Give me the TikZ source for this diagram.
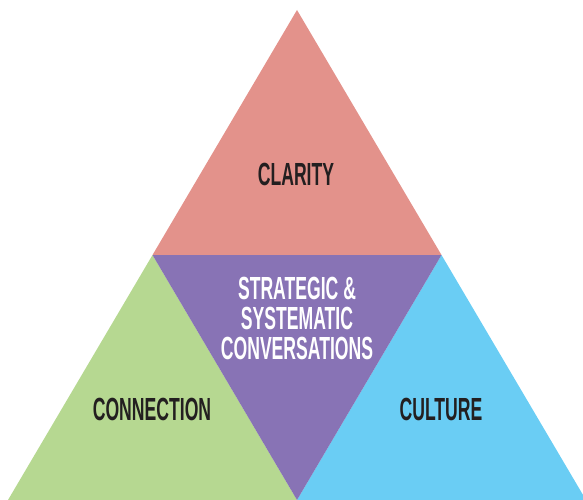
\documentclass[tikz,border=0pt]{standalone}
\usepackage{fontspec}
\newfontfamily\condfont{Liberation Sans}[FakeStretch=0.55]
\usetikzlibrary{positioning}
\definecolor{clarityred}{HTML}{E3928B}
\definecolor{corepurple}{HTML}{8873B5}
\definecolor{connectgreen}{HTML}{B6D891}
\definecolor{cultureblue}{HTML}{6ACDF4}
\definecolor{labeldark}{HTML}{231F20}

\begin{document}
\begin{tikzpicture}[x=1pt, y=-1pt]
    \tikzstyle{every node}=[font=\condfont\bfseries\fontsize{32}{30}\selectfont, text=labeldark, align=center, inner sep=0pt];
    \useasboundingbox (0,0) rectangle (583,500);
    % corners of the big triangle and the midpoints of its sides
    \coordinate (top) at (297,10);
    \coordinate (bl) at (8,500);
    \coordinate (br) at (586,500);
    \coordinate (ml) at (152.5,255);
    \coordinate (mr) at (441.5,255);
    \coordinate (mb) at (297,500);
    \fill[clarityred] (top) -- (ml) -- (mr) -- cycle;
    \fill[connectgreen] (ml) -- (bl) -- (mb) -- cycle;
    \fill[cultureblue] (mr) -- (mb) -- (br) -- cycle;
    \fill[corepurple] (ml) -- (mr) -- (mb) -- cycle;
    \node (clarity) at (296,174) {CLARITY};
    \node (connection) at (152,409) {CONNECTION};
    \node (culture) at (441,409) {CULTURE};
    \node[text=white] (core) at (297,318) {STRATEGIC \&\\SYSTEMATIC\\CONVERSATIONS};
\end{tikzpicture}
\end{document}
